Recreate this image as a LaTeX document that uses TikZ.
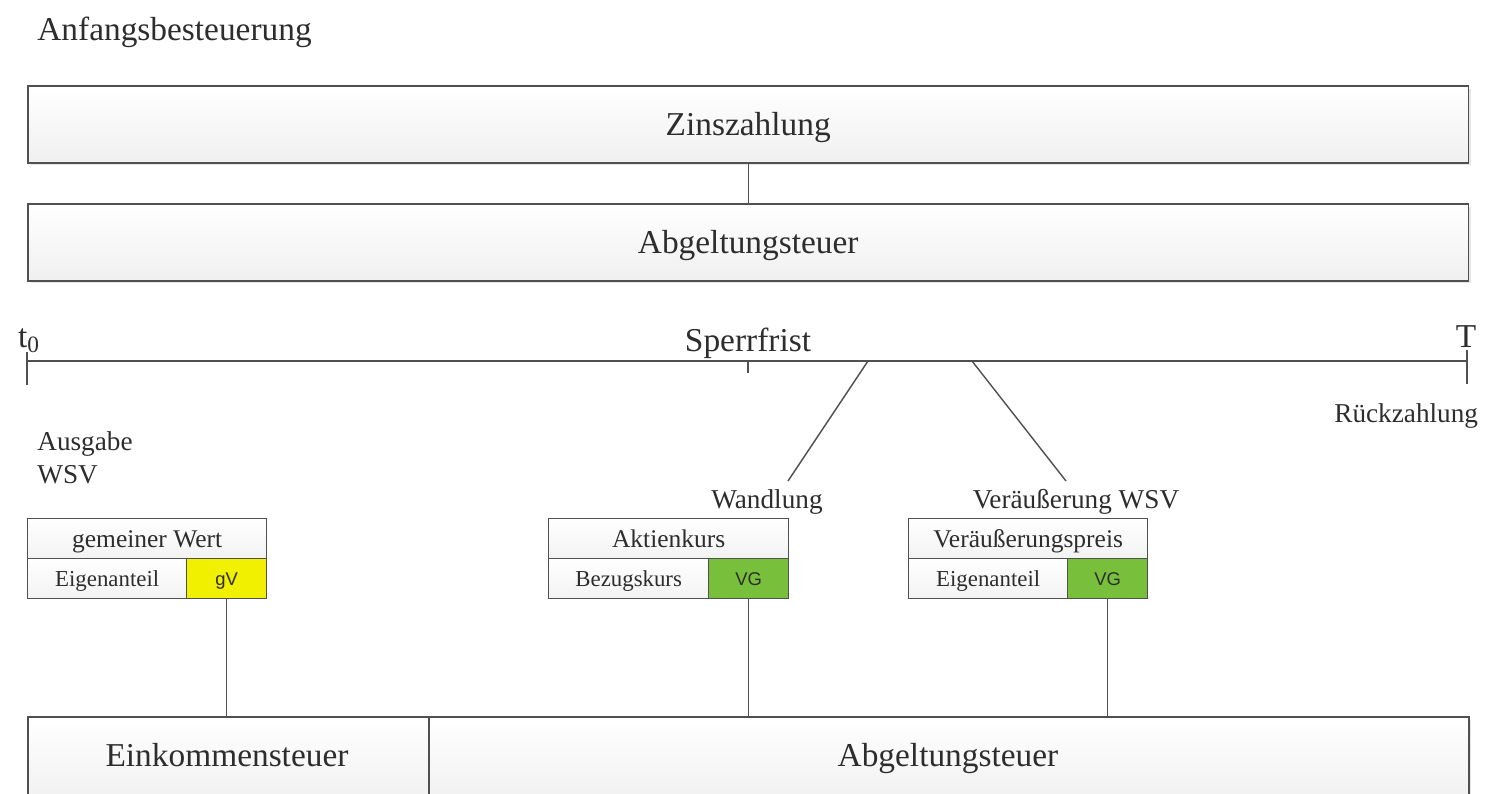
\documentclass[tikz,border=0pt]{standalone}
\usepackage{fontspec}
\setmainfont{Liberation Serif}
\newfontfamily\cellsans{Liberation Sans}
\usetikzlibrary{shadows}
\definecolor{txtgray}{RGB}{45,45,45}
\definecolor{rimgray}{RGB}{80,80,80}
\definecolor{gvyellow}{RGB}{240,240,0}
\definecolor{vggreen}{RGB}{120,192,60}
\tikzset{
  bar/.style={draw=rimgray, line width=1pt, top color=white, bottom color=gray!12,
    drop shadow={shadow xshift=1.5pt, shadow yshift=-1.5pt, opacity=0.2},
    inner sep=0pt, anchor=north west, text=txtgray, text depth=0pt, font=\fontsize{19}{22}\selectfont},
  cell/.style={draw=rimgray, line width=0.8pt, top color=white, bottom color=gray!10,
    inner sep=0pt, anchor=north west, minimum height=0.8cm, text=txtgray, text depth=0pt},
  label/.style={text=txtgray, inner sep=0pt},
}
\begin{document}
\begin{tikzpicture}[x=0.02cm, y=-0.02cm]
                \useasboundingbox (0,0) rectangle (1489,794);
                \clip (0,0) rectangle (1489,794);
                \node[label, anchor=base west, font=\fontsize{19}{22}\selectfont] (anf) at (37,41) {Anfangsbesteuerung};
                % upper bars
                \node[bar, minimum width=28.82cm, minimum height=1.54cm] (zins) at (27,85) {Zinszahlung};
                \node[bar, minimum width=28.82cm, minimum height=1.54cm] (abg) at (27,203) {Abgeltungsteuer};
                \draw[rimgray, line width=0.8pt] (zins.south) -- (abg.north);
                % time line
                \coordinate (t0) at (27,361);
                \coordinate (tm) at (748,361);
                \coordinate (tT) at (1467,361);
                \draw[rimgray, line width=1pt] (t0) -- (tT);
                \draw[rimgray, line width=1pt] (27,352) -- (27,385);
                \draw[rimgray, line width=0.8pt] (tm) -- (748,373);
                \draw[rimgray, line width=1pt] (1467,350) -- (1467,384);
                \node[label, anchor=base, font=\fontsize{19}{22}\selectfont] (lt0) at (29,347) {t\textsubscript{0}};
                \node[label, anchor=base, font=\fontsize{19}{22}\selectfont] (lT) at (1466,347) {T};
                \node[label, anchor=base, font=\fontsize{19}{22}\selectfont] (sperr) at (748,351) {Sperrfrist};
                \node[label, anchor=base west, font=\fontsize{15.5}{18}\selectfont] (rueck) at (1334,422) {Rückzahlung};
                \node[label, anchor=west, align=left, font=\fontsize{15.5}{18.5}\selectfont] (ausg) at (37,458) {Ausgabe\\WSV};
                \node[label, anchor=base, font=\fontsize{15.5}{18}\selectfont] (wand) at (767,508) {Wandlung};
                \node[label, anchor=base, font=\fontsize{15.5}{18}\selectfont] (veraeu) at (1076,508) {Veräußerung WSV};
                \coordinate (w0) at (868,361);
                \coordinate (w1) at (788,481);
                \coordinate (v0) at (972,361);
                \coordinate (v1) at (1066,481);
                \draw[rimgray, line width=0.8pt] (w0) -- (w1);
                \draw[rimgray, line width=0.8pt] (v0) -- (v1);
                % small boxes
                \node[cell, minimum width=4.78cm, font=\fontsize{14.5}{17}\selectfont] (gw) at (27,518) {gemeiner Wert};
                \node[cell, minimum width=3.18cm, font=\fontsize{13}{15}\selectfont] (gwl) at (27,558) {Eigenanteil};
                \node[cell, minimum width=1.6cm, top color=gvyellow, bottom color=gvyellow, font=\cellsans\fontsize{10.5}{12}\selectfont] (gwr) at (186,558) {gV};
                \node[cell, minimum width=4.8cm, font=\fontsize{14.5}{17}\selectfont] (ak) at (548,518) {Aktienkurs};
                \node[cell, minimum width=3.2cm, font=\fontsize{13}{15}\selectfont] (akl) at (548,558) {Bezugskurs};
                \node[cell, minimum width=1.6cm, top color=vggreen, bottom color=vggreen, font=\cellsans\fontsize{10.5}{12}\selectfont] (akr) at (708,558) {VG};
                \node[cell, minimum width=4.78cm, font=\fontsize{14.5}{17}\selectfont] (vp) at (908,518) {Veräußerungspreis};
                \node[cell, minimum width=3.18cm, font=\fontsize{13}{15}\selectfont] (vpl) at (908,558) {Eigenanteil};
                \node[cell, minimum width=1.6cm, top color=vggreen, bottom color=vggreen, font=\cellsans\fontsize{10.5}{12}\selectfont] (vpr) at (1067,558) {VG};
                % lower bars
                \node[bar, minimum width=8.02cm, minimum height=1.8cm] (ek) at (27,716) {};
                \node[bar, minimum width=20.8cm, minimum height=1.8cm] (ag) at (428,716) {};
                \node[label, anchor=base, font=\fontsize{19}{22}\selectfont] (ektxt) at (227,766) {Einkommensteuer};
                \node[label, anchor=base, font=\fontsize{19}{22}\selectfont] (agtxt) at (948,766) {Abgeltungsteuer};
                \draw[rimgray, line width=0.8pt] (gwr.south) -- (gwr.south |- ek.north);
                \draw[rimgray, line width=0.8pt] (akr.south) -- (akr.south |- ag.north);
                \draw[rimgray, line width=0.8pt] (vpr.south) -- (vpr.south |- ag.north);
            \end{tikzpicture}
\end{document}
